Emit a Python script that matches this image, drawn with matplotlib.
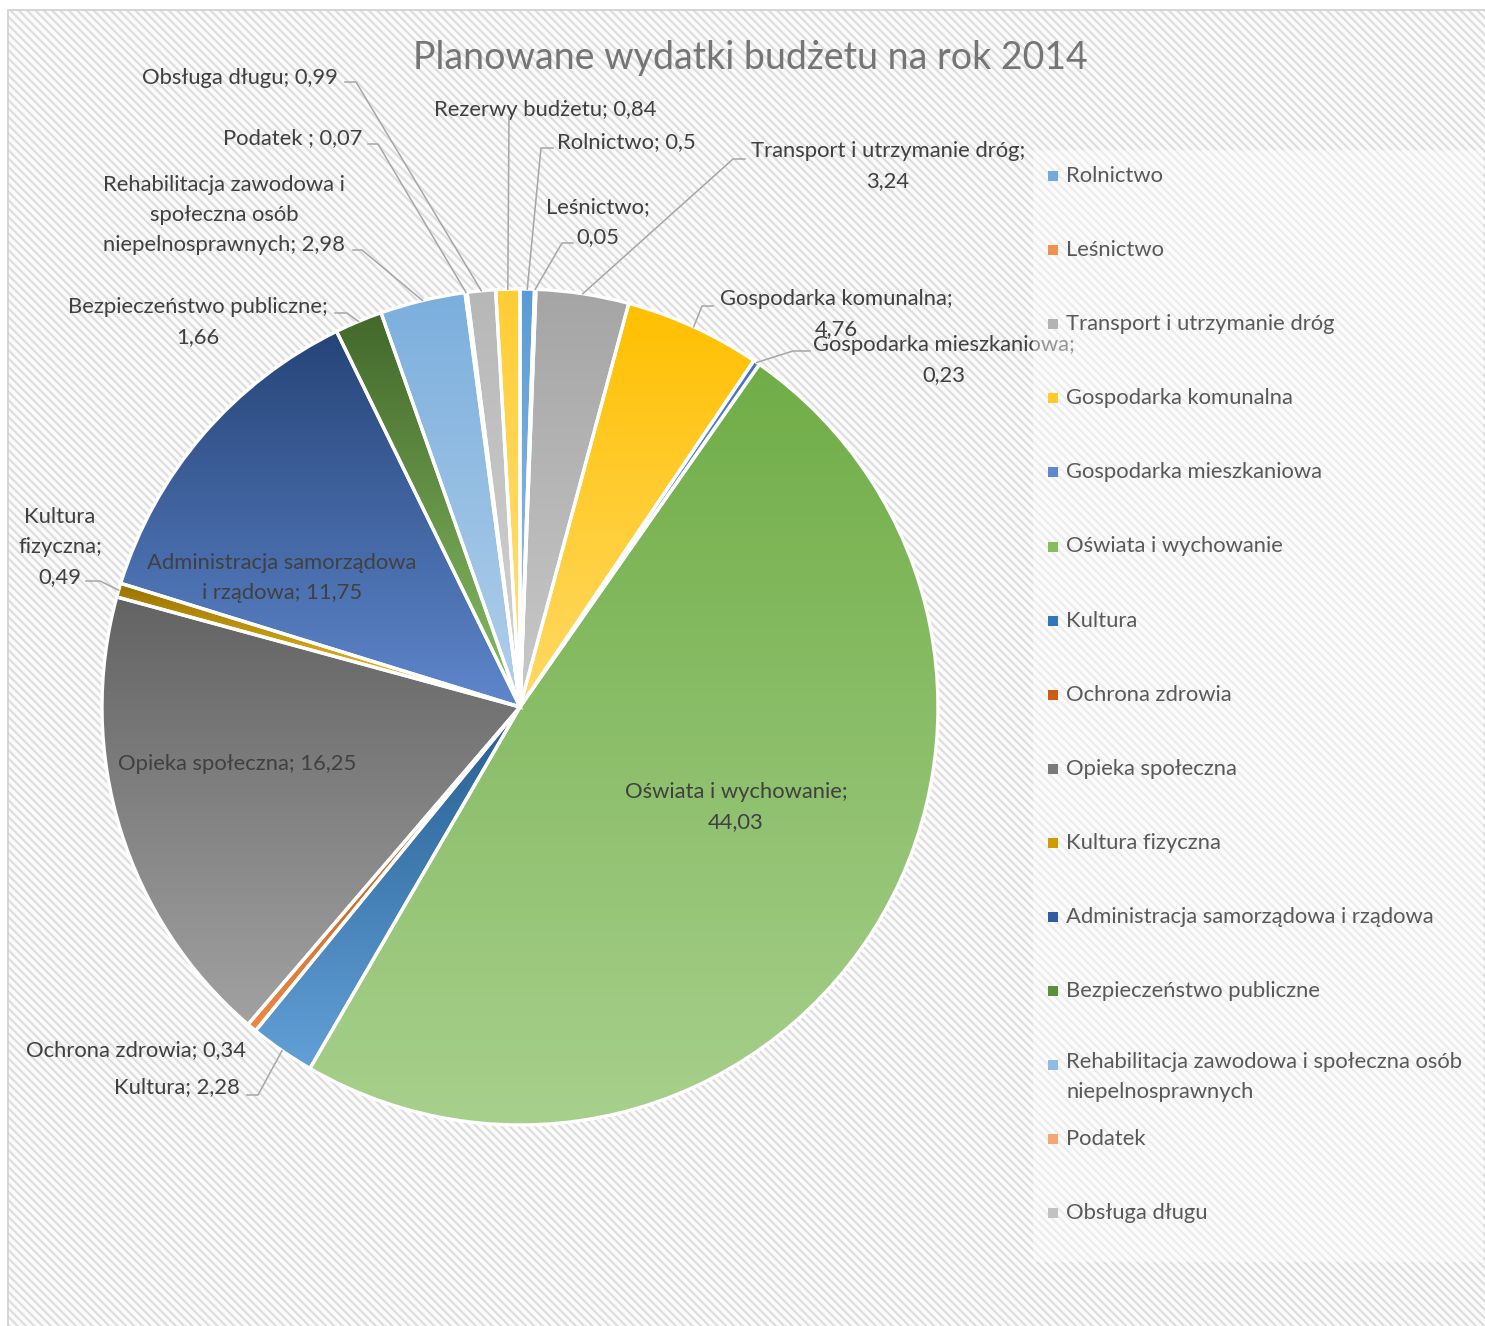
import colorsys

import numpy as np
import matplotlib
matplotlib.use('Agg')
import matplotlib.pyplot as plt
from matplotlib.colors import to_rgb
from matplotlib.patches import Rectangle

### Data ###
categories = [
    'Rolnictwo', 'Leśnictwo', 'Transport i utrzymanie dróg',
    'Gospodarka komunalna', 'Gospodarka mieszkaniowa',
    'Oświata i wychowanie', 'Kultura', 'Ochrona zdrowia',
    'Opieka społeczna', 'Kultura fizyczna',
    'Administracja samorządowa i rządowa', 'Bezpieczeństwo publiczne',
    'Rehabilitacja zawodowa i społeczna osób niepelnosprawnych',
    'Podatek', 'Obsługa długu', 'Rezerwy budżetu',
]
values = [0.5, 0.05, 3.24, 4.76, 0.23, 44.03, 2.28, 0.34,
          16.25, 0.49, 11.75, 1.66, 2.98, 0.07, 0.99, 0.84]
# label text as shown on the chart (Excel wrapped some of them)
label_texts = [
    'Rolnictwo; 0,5', 'Leśnictwo;\n0,05', 'Transport i utrzymanie dróg;\n3,24',
    'Gospodarka komunalna;\n4,76', 'Gospodarka mieszkaniowa;\n0,23',
    'Oświata i wychowanie;\n44,03', 'Kultura; 2,28', 'Ochrona zdrowia; 0,34',
    'Opieka społeczna; 16,25', 'Kultura\nfizyczna;\n0,49',
    'Administracja samorządowa\ni rządowa; 11,75',
    'Bezpieczeństwo publiczne;\n1,66',
    'Rehabilitacja zawodowa i\nspołeczna osób\nniepelnosprawnych; 2,98',
    'Podatek ; 0,07', 'Obsługa długu; 0,99', 'Rezerwy budżetu; 0,84',
]
legend_texts = categories[:12] + [
    'Rehabilitacja zawodowa i społeczna osób\nniepelnosprawnych',
    'Podatek', 'Obsługa długu']
title = 'Planowane wydatki budżetu na rok 2014'

### Styles / layout (reference pixel coords, y measured from top) ###
W, H = 1485, 1326
colors = ['#5B9BD5', '#ED7D31', '#A5A5A5', '#FFC000', '#4472C4', '#70AD47',
          '#255E91', '#9E480E', '#636363', '#997300', '#264478', '#43682B',
          '#7CAFDD', '#F1975A', '#B7B7B7', '#FFCD33']
pie_center = (520, 707)
pie_radius = 418
fs = 15.8
lsp = 1.64

# text x, y, horizontal alignment, leader line points (None = no leader)
label_layout = [
    (557, 142, 'left', [(553, 148), (541, 148)]),
    (598, 222, 'center', [(573, 243), (562, 243)]),
    (888, 166, 'center', [(745, 159), (733, 159)]),
    (836, 314, 'center', [(713, 306), (702, 306)]),
    (944, 360, 'center', [(810, 351), (793, 351)]),
    (736, 807, 'center', None),
    (240, 1087, 'right', [(247, 1095), (258, 1095)]),
    (246, 1050, 'right', None),
    (237, 764, 'center', None),
    (60, 547, 'center', [(86, 581), (100, 581)]),
    (282, 578, 'center', None),
    (198, 322, 'center', [(335, 313), (347, 313)]),
    (224, 215, 'center', [(353, 250), (362, 250)]),
    (362, 138, 'right', [(368, 144), (378, 144)]),
    (338, 78, 'right', [(345, 82), (356, 82)]),
    (545, 110, 'center', [(509, 116)]),
]


def lighten(c, f):
    h, l, s = colorsys.rgb_to_hls(*to_rgb(c))
    return colorsys.hls_to_rgb(h, l + f * (1 - l), s)


def fy(y):
    # flip reference y (from top) to data y (from bottom)
    return H - y


plt.rcParams['font.family'] = ['Lato', 'DejaVu Sans']

fig = plt.figure(figsize=(W / 100, H / 100), dpi=100)
fig.patch.set_facecolor('white')
ax = fig.add_axes([0, 0, 1, 1])

# Hatched chart area with a thin border
plt.rcParams['hatch.linewidth'] = 1.6
ax.add_patch(Rectangle((8, 0), W - 8, fy(10), facecolor='#fbfbfb',
                       edgecolor='#dedede', linewidth=0, hatch='\\\\\\\\',
                       zorder=0))
ax.add_patch(Rectangle((8, -2), W - 6, fy(10) + 2, facecolor='none',
                       edgecolor='#d0d0d0', linewidth=1.2, zorder=0.1))

# Pie
cx, cy = pie_center[0], fy(pie_center[1])
wedges, _ = ax.pie(values, colors=colors, startangle=90, counterclock=False,
                   center=(cx, cy), radius=pie_radius,
                   wedgeprops=dict(edgecolor='white', linewidth=2.4))

# Vertical gradient inside every wedge (base colour at top, lighter below)
n = 256
for w, c in zip(wedges, colors):
    verts = w.get_path().vertices
    x0, y0 = verts.min(axis=0)
    x1, y1 = verts.max(axis=0)
    top = np.array(to_rgb(c))
    bot = np.array(lighten(c, 0.4))
    t = np.linspace(0, 1, n)[:, None]
    grad = (top * (1 - t) + bot * t)[:, None, :]
    im = ax.imshow(grad, extent=(x0, x1, y0, y1), origin='upper',
                   aspect='auto', interpolation='bilinear', zorder=1.5)
    im.set_clip_path(w)
    w.set_facecolor('none')
    w.set_zorder(2)

# Data labels and leader lines
theta = 90 - np.cumsum([0] + values[:-1]) / sum(values) * 360
mids = theta - np.array(values) / sum(values) * 180
for i, (txt, lay) in enumerate(zip(label_texts, label_layout)):
    x, y, ha, lead = lay
    ax.text(x, fy(y), txt, ha=ha, va='center', fontsize=fs,
            color='#404040', linespacing=lsp, multialignment='center',
            zorder=3)
    if lead is not None:
        a = np.deg2rad(mids[i])
        ex = cx + pie_radius * np.cos(a)
        ey = cy + pie_radius * np.sin(a)
        xs = [p[0] for p in lead] + [ex]
        ys = [fy(p[1]) for p in lead] + [ey]
        ax.plot(xs, ys, color='#a6a6a6', linewidth=1.1, zorder=3)

# Title
ax.text(750, fy(58), title, ha='center', va='center', fontsize=27,
        color='#757575', zorder=3)

# Legend (semi transparent box drawn over the hatch)
ax.add_patch(Rectangle((1033, fy(1262)), 450, 1262 - 150, facecolor='white',
                       edgecolor='none', alpha=0.45, zorder=4))
for i, (txt, c) in enumerate(zip(legend_texts, colors)):
    y = 176 + i * 74.1
    ax.add_patch(Rectangle((1048, fy(y) - 5), 10, 10,
                           facecolor=lighten(c, 0.15), edgecolor='none',
                           zorder=5))
    va = 'center' if '\n' not in txt else 'top'
    ty = fy(y) if va == 'center' else fy(y) + 13
    ax.text(1066, ty, txt, ha='left', va=va, fontsize=fs,
            color='#595959', linespacing=lsp, zorder=5)

ax.set_xlim(0, W)
ax.set_ylim(0, H)
ax.set_aspect('auto')
ax.axis('off')

fig.savefig('out.png', dpi=100)
